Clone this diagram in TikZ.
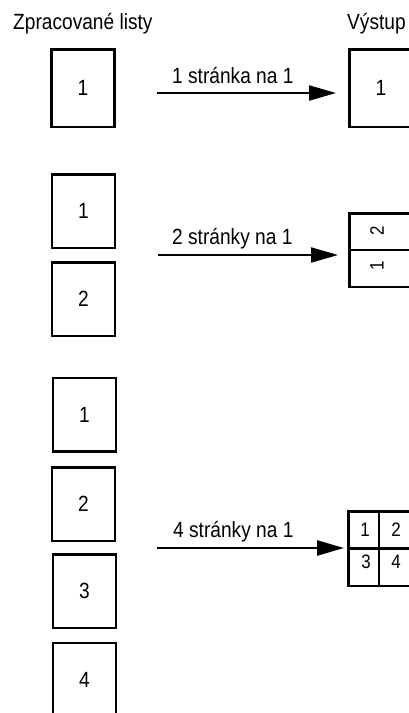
\documentclass[tikz,border=0pt]{standalone}
\usepackage{fontspec}
\usepackage{graphicx}
\setmainfont{Liberation Sans}
\usetikzlibrary{arrows.meta}
\newcommand{\cnd}[1]{\scalebox{0.87}[1]{#1}}
\tikzset{
  page/.style={draw, line width=2.5pt, minimum width=63pt, minimum height=73.5pt, inner sep=0pt,
    font=\fontsize{22}{26}\selectfont},
  outbox/.style={draw, line width=2.5pt, inner sep=0pt},
  divider/.style={line width=2.5pt},
  conn/.style={line width=2.2pt, -{Triangle[length=27pt,width=15pt]}},
  lbl/.style={anchor=base west, inner sep=0pt, font=\fontsize{22}{26}\selectfont},
  digit/.style={inner sep=0pt, font=\fontsize{19.5}{23}\selectfont},
}
\begin{document}
\begin{tikzpicture}[x=1pt,y=-1pt]
\useasboundingbox (0,0) rectangle (409,713);
\clip (0,0) rectangle (409,713);
% titles
\node[lbl] (t1) at (13,29) {\cnd{Zpracované listy}};
\node[lbl] (t2) at (347,29) {\cnd{Výstup}};

% section 1
\node[page, minimum height=77.5pt] (a1) at (83,88) {\cnd{1}};
\node[outbox, minimum width=63.5pt, minimum height=77.5pt, font=\fontsize{22}{26}\selectfont] (o1) at (381,88) {\cnd{1}};
\coordinate (s1) at (157,93);
\coordinate (e1) at (336,93);
\draw[conn] (s1) -- (e1);
\node[lbl] (l1) at (172,83) {\cnd{1 stránka na 1}};

% section 2
\node[page] (b1) at (83.5,211) {\cnd{1}};
\node[page] (b2) at (83.5,299) {\cnd{2}};
\node[outbox, minimum width=63.5pt, minimum height=73.5pt] (o2) at (381,250) {};
\draw[divider] (o2.west) -- (o2.east);
\node[digit, rotate=90] (o2a) at (377,231) {\cnd{2}};
\node[digit, rotate=90] (o2b) at (377,266) {\cnd{1}};
\coordinate (s2) at (158,255);
\coordinate (e2) at (338,255);
\draw[conn] (s2) -- (e2);
\node[lbl] (l2) at (172,244) {\cnd{2 stránky na 1}};

% section 3
\node[page] (c1) at (84.5,414.5) {\cnd{1}};
\node[page] (c2) at (83.5,504) {\cnd{2}};
\node[page] (c3) at (84.5,591) {\cnd{3}};
\node[page] (c4) at (84.5,679.5) {\cnd{4}};
\node[outbox, minimum width=61.5pt, minimum height=74.5pt] (o3) at (379,548.5) {};
\draw[divider] (o3.west) -- (o3.east);
\draw[divider] (o3.north) -- (o3.south);
\node[digit] (o3a) at (365,530) {\cnd{1}};
\node[digit] (o3b) at (396,530) {\cnd{2}};
\node[digit] (o3c) at (366,562) {\cnd{3}};
\node[digit] (o3d) at (396,562) {\cnd{4}};
\coordinate (s3) at (157,548);
\coordinate (e3) at (344,548);
\draw[conn] (s3) -- (e3);
\node[lbl] (l3) at (173,537) {\cnd{4 stránky na 1}};
\end{tikzpicture}
\end{document}
